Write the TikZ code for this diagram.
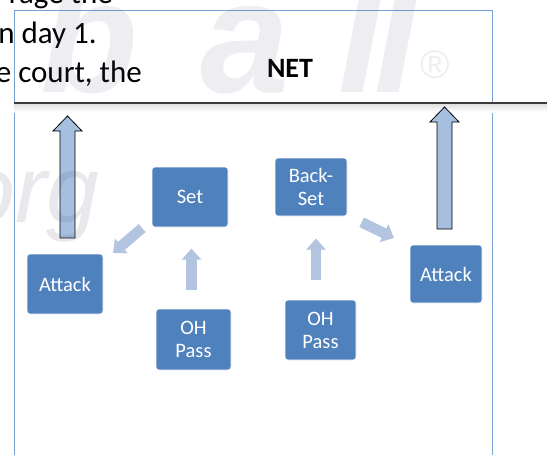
\documentclass[tikz,border=0pt]{standalone}
\usepackage{fontspec}
\setmainfont{Carlito}
\newfontfamily\markfont{Liberation Sans}
\usetikzlibrary{arrows.meta, positioning, calc}

\definecolor{boxblue}{RGB}{79,129,189}
\definecolor{flowblue}{RGB}{178,196,223}
\definecolor{upblue}{RGB}{166,191,222}
\definecolor{frameblue}{RGB}{120,160,215}
\definecolor{netgray}{RGB}{60,60,60}
\definecolor{markgray}{RGB}{90,90,130}

\begin{document}
\begin{tikzpicture}[
  x=1pt, y=-1pt,
  stepbox/.style={
    draw=white, line width=0.6pt, fill=boxblue, rounded corners=3pt,
    text=white, font=\fontsize{20.5}{23}\selectfont, align=center,
    inner sep=0pt
  },
  flow/.style={draw=flowblue, line width=10.5pt,
    -{Triangle[length=11pt, width=19pt]}},
  uparrow/.style={draw=black, line width=0.8pt, fill=upblue},
  bodytext/.style={anchor=base east, inner sep=0pt,
    font=\fontsize{31}{39}\selectfont},
  wmark/.style={text=markgray, opacity=0.1, inner sep=0pt},
]
\useasboundingbox (0,0) rectangle (552,455);
\clip (0,0) rectangle (552,455);

%%% Text of the page behind the frame
\node[bodytext] (txtA) at (113,4) {rage the};
\node[bodytext] (txtB) at (97,43) {n day 1.};
\node[bodytext] (txtC) at (142,82) {e court, the};

%%% Frame and net
\draw[frameblue, line width=0.8pt] (14,460) |- (492,10) -- (492,460);
\shade[top color=black!12, bottom color=white] (14,104) rectangle (547,112);
\draw[netgray, line width=1.2pt] (14,103) -- (547,103);
\node[font=\fontsize{28}{34}\selectfont\bfseries, anchor=base] (net)
  at (290,77) {NET};

%%% Steps
\node[stepbox, minimum width=76pt, minimum height=60pt] (set) at (190,197) {Set};
\node[stepbox, minimum width=76pt, minimum height=60pt] (attL) at (65,284) {Attack};
\node[stepbox, minimum width=75pt, minimum height=61pt] (ohL) at (193.5,339.5) {OH\\Pass};
\node[stepbox, minimum width=72pt, minimum height=58pt] (back) at (311,187) {Back-\\Set};
\node[stepbox, minimum width=72pt, minimum height=58pt] (attR) at (446,274) {Attack};
\node[stepbox, minimum width=71pt, minimum height=60pt] (ohR) at (320.5,330) {OH\\Pass};

%%% Flow between steps
\draw[flow] ([xshift=-9.5pt, yshift=-0.8pt]set.south west)
  -- ([xshift=9.7pt, yshift=0.7pt]attL.north east);
\draw[flow] ([xshift=-2pt, yshift=19pt]ohL.north)
  -- ([xshift=1.5pt, yshift=-21.3pt]set.south);
\draw[flow] ([xshift=-4.5pt, yshift=20pt]ohR.north)
  -- ([xshift=5pt, yshift=-22.3pt]back.south);
\draw[flow] ([xshift=14.3pt, yshift=-6pt]back.south east)
  -- ([xshift=-15.7pt, yshift=6.7pt]attR.north west);

%%% Attacks over the net
\foreach \cx/\tip/\foot in {67.5/116/238, 444.5/107/229}
  \draw[uparrow] (\cx-7.5,\foot) -- (\cx-7.5,\tip+15) -- (\cx-14.5,\tip+15)
    -- (\cx,\tip) -- (\cx+14.5,\tip+15) -- (\cx+7.5,\tip+15)
    -- (\cx+7.5,\foot) -- cycle;

%%% Watermark
\foreach \ch/\xx in {b/40, a/200, l/338, l/374}
  \node[wmark, anchor=base west,
        font=\markfont\bfseries\itshape\fontsize{160}{160}\selectfont]
    at (\xx,92) {\ch};
\node[wmark, opacity=0.14, anchor=base east,
      font=\markfont\itshape\fontsize{95}{95}\selectfont]
  (org) at (100,222) {org};
\node[wmark, font=\markfont\fontsize{40}{40}\selectfont] (reg) at (435,65) {®};

\end{tikzpicture}
\end{document}
